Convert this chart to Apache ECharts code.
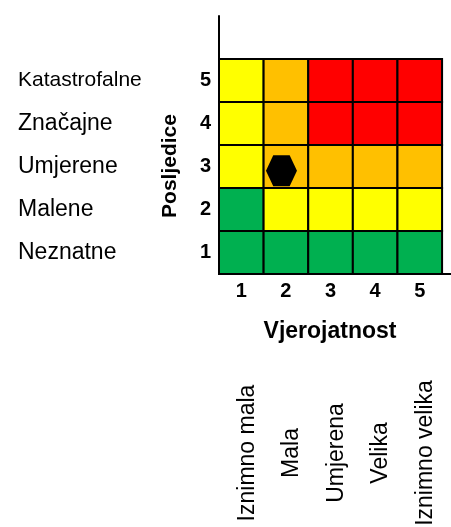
<!DOCTYPE html>
<html><head><meta charset="utf-8">
<script src="https://cdn.jsdelivr.net/npm/echarts@6/dist/echarts.min.js"></script>
<style>html,body{margin:0;padding:0;background:#fff}#c{width:451px;height:527px}</style>
</head><body><div id="c"></div>
<script>
// Likelihood (x) and consequence (y) scales
const likelihoodTicks = [1, 2, 3, 4, 5];
const likelihoodNames = ['Iznimno mala', 'Mala', 'Umjerena', 'Velika', 'Iznimno velika'];
const consequenceTicks = [1, 2, 3, 4, 5];
const consequenceNames = ['Neznatne', 'Malene', 'Umjerene', 'Značajne', 'Katastrofalne'];
// Risk level per cell: one array per consequence row, columns = likelihood 1..5
// 1 = green, 2 = yellow, 3 = orange, 4 = red
const riskRow1 = [1, 1, 1, 1, 1];
const riskRow2 = [1, 2, 2, 2, 2];
const riskRow3 = [2, 3, 3, 3, 3];
const riskRow4 = [2, 3, 4, 4, 4];
const riskRow5 = [2, 3, 4, 4, 4];
const levelColors = ['#00B050', '#FFFF00', '#FFC000', '#FF0000'];
// Assessed risk marker (likelihood, consequence)
const assessedRisk = [1.9, 2.9];
const xTitle = 'Vjerojatnost';
const yTitle = 'Posljedice';

const rows = [riskRow1, riskRow2, riskRow3, riskRow4, riskRow5];
const cells = [];
rows.forEach((row, ri) => row.forEach((lvl, ci) => cells.push([likelihoodTicks[ci], consequenceTicks[ri], lvl])));

const FONT = 'Liberation Sans, Arial, sans-serif';
const isTick = (v, ticks) => ticks.indexOf(Math.round(v * 1000) / 1000) >= 0;

const chart = echarts.init(document.getElementById('c'), null, {renderer: 'canvas'});
chart.setOption({
  animation: false,
  backgroundColor: '#ffffff',
  grid: {left: 219, right: 0, top: 16, bottom: 253, containLabel: false, outerBoundsMode: 'none'},
  xAxis: [{
    type: 'value', min: 0.5, max: 5.7, interval: 0.5, position: 'bottom',
    axisLine: {show: true, lineStyle: {color: '#000', width: 2}},
    axisTick: {show: false}, splitLine: {show: false},
    axisLabel: {
      margin: 7, color: '#000', fontFamily: FONT, fontWeight: 'bold', fontSize: 20,
      showMinLabel: true, showMaxLabel: true,
      formatter: v => isTick(v, likelihoodTicks) ? String(Math.round(v)) : ''
    }
  }, {
    type: 'value', min: 0.5, max: 5.7, interval: 0.5, position: 'bottom',
    axisLine: {show: false}, axisTick: {show: false}, splitLine: {show: false},
    axisLabel: {
      rotate: 90, margin: 104, color: '#000', fontFamily: FONT, fontSize: 23,
      showMinLabel: true, showMaxLabel: true,
      formatter: v => isTick(v, likelihoodTicks) ? '{a|' + likelihoodNames[Math.round(v) - 1] + '}' : '',
      rich: {a: {width: 150, align: 'center', padding: [12, 0, 0, 0], fontFamily: FONT, fontSize: 23, color: '#000'}}
    }
  }],
  yAxis: [{
    type: 'value', min: 0.5, max: 6.5, interval: 0.5, position: 'left',
    axisLine: {show: true, lineStyle: {color: '#000', width: 2}},
    axisTick: {show: false}, splitLine: {show: false},
    axisLabel: {
      margin: 8, color: '#000', fontFamily: FONT, fontWeight: 'bold', fontSize: 20,
      formatter: v => isTick(v, consequenceTicks) ? String(Math.round(v)) : ''
    }
  }, {
    type: 'value', min: 0.5, max: 6.5, interval: 0.5, position: 'left',
    axisLine: {show: false}, axisTick: {show: false}, splitLine: {show: false},
    axisLabel: {
      margin: 201, align: 'left', color: '#000', fontFamily: FONT, fontSize: 23,
      formatter: v => {
        if (!isTick(v, consequenceTicks)) return '';
        const i = Math.round(v) - 1;
        return i === 4 ? '{k|' + consequenceNames[i] + '}' : consequenceNames[i];
      },
      rich: {k: {fontFamily: FONT, fontSize: 21, color: '#000'}}
    }
  }],
  graphic: [{
    type: 'text', x: 330, y: 332,
    style: {text: xTitle, font: 'bold 23px "Liberation Sans", Arial, sans-serif', fill: '#000', align: 'center', verticalAlign: 'middle', textAlign: 'center', textVerticalAlign: 'middle'}
  }, {
    type: 'text', x: 170, y: 166, rotation: Math.PI / 2,
    style: {text: yTitle, font: 'bold 21px "Liberation Sans", Arial, sans-serif', fill: '#000', align: 'center', verticalAlign: 'middle', textAlign: 'center', textVerticalAlign: 'middle'}
  }],
  series: [{
    type: 'custom', xAxisIndex: 0, yAxisIndex: 0,
    data: cells,
    encode: {x: 0, y: 1},
    renderItem: function (params, api) {
      const x = api.value(0), y = api.value(1), lvl = api.value(2);
      const p = api.coord([x - 0.5, y + 0.5]);
      const q = api.coord([x + 0.5, y - 0.5]);
      return {
        type: 'rect',
        shape: {x: p[0], y: p[1], width: q[0] - p[0], height: q[1] - p[1]},
        style: {fill: levelColors[lvl - 1], stroke: '#000', lineWidth: 2}
      };
    },
    z: 2
  }, {
    type: 'scatter', xAxisIndex: 0, yAxisIndex: 0,
    data: [assessedRisk],
    symbol: 'path://M0,15 L7.3,0 L23.7,0 L31,15 L23.7,30 L7.3,30 Z',
    symbolSize: [31, 31],
    itemStyle: {color: '#000', opacity: 1},
    z: 5
  }]
});
</script>
</body></html>
